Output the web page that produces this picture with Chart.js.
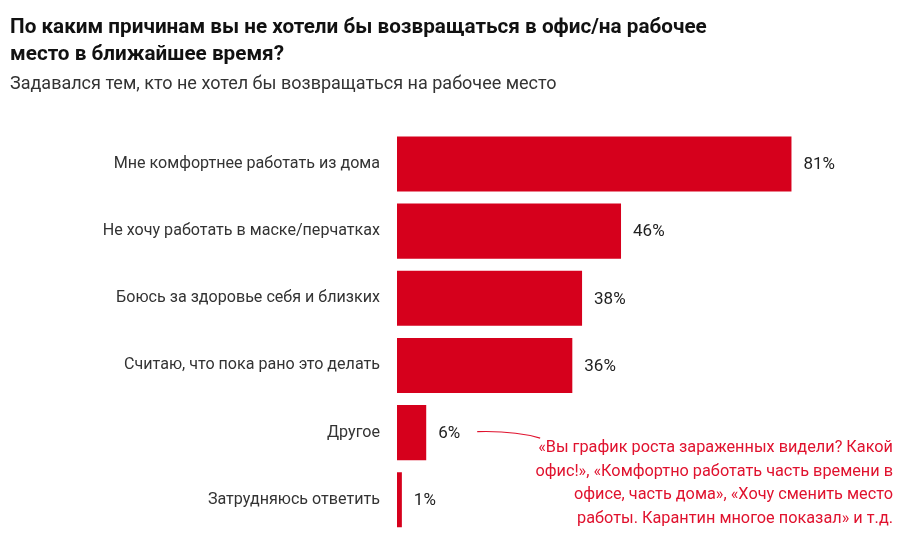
<!DOCTYPE html>
<html>
<head>
<meta charset="utf-8">
<script src="https://cdn.jsdelivr.net/npm/chart.js@4"></script>
<style>
  body { margin: 0; background: #fff; }
</style>
</head>
<body>
<canvas id="chart" width="903" height="552"></canvas>
<script>
// Данные
const titleLines = [
    'По каким причинам вы не хотели бы возвращаться в офис/на рабочее',
    'место в ближайшее время?'
];
const subtitleText = 'Задавался тем, кто не хотел бы возвращаться на рабочее место';
const categories = [
    'Мне комфортнее работать из дома',
    'Не хочу работать в маске/перчатках',
    'Боюсь за здоровье себя и близких',
    'Считаю, что пока рано это делать',
    'Другое',
    'Затрудняюсь ответить'
];
const values = [81, 46, 38, 36, 6, 1];
const valueLabels = ['81%', '46%', '38%', '36%', '6%', '1%'];
const noteLines = [
    '«Вы график роста зараженных видели? Какой',
    'офис!», «Комфортно работать часть времени в',
    'офисе, часть дома», «Хочу сменить место',
    'работы. Карантин многое показал» и т.д.'
];
const noteIndex = 4;

const barColor = '#d6001c';
const noteColor = '#e0122e';
const fontFamily = 'Roboto, "Noto Sans", sans-serif';

// Подписи значений справа от столбцов
const valueLabelsPlugin = {
    id: 'valueLabels',
    afterDatasetsDraw(chart) {
        const ctx = chart.ctx;
        const bars = chart.getDatasetMeta(0).data;
        ctx.save();
        ctx.font = '17px ' + fontFamily;
        ctx.fillStyle = '#222';
        ctx.textAlign = 'left';
        ctx.textBaseline = 'middle';
        bars.forEach((bar, i) => {
            ctx.fillText(valueLabels[i], bar.x + 12, bar.y + 1);
        });
        ctx.restore();
    }
};

// Комментарий к «Другое»
const notePlugin = {
    id: 'note',
    afterDraw(chart) {
        const ctx = chart.ctx;
        const bar = chart.getDatasetMeta(0).data[noteIndex];
        const right = chart.width - 10;
        const lineH = 23.5;
        const firstY = bar.y + 15.5;
        ctx.save();
        ctx.font = '16.3px ' + fontFamily;
        ctx.fillStyle = noteColor;
        ctx.textAlign = 'right';
        ctx.textBaseline = 'middle';
        noteLines.forEach((line, i) => {
            ctx.fillText(line, right, firstY + i * lineH);
        });
        const textLeft = right - ctx.measureText(noteLines[0]).width;

        // соединительная линия
        const x0 = bar.x + 51;
        const y0 = bar.y - 1;
        const x1 = textLeft + 2;
        const y1 = firstY - 10;
        ctx.strokeStyle = noteColor;
        ctx.lineWidth = 1.2;
        ctx.beginPath();
        ctx.moveTo(x0, y0);
        ctx.quadraticCurveTo(x0 + (x1 - x0) * 0.6, y0 - 1, x1, y1);
        ctx.stroke();
        ctx.restore();
    }
};

new Chart(document.getElementById('chart'), {
    type: 'bar',
    data: {
        labels: categories,
        datasets: [{
            data: values,
            backgroundColor: barColor,
            borderWidth: 0,
            categoryPercentage: 0.82,
            barPercentage: 1
        }]
    },
    options: {
        indexAxis: 'y',
        responsive: false,
        animation: false,
        devicePixelRatio: 1,
        layout: {
            padding: { left: 10, right: 19, top: 0, bottom: 4 }
        },
        scales: {
            x: {
                display: false,
                min: 0,
                max: 100
            },
            y: {
                grid: { display: false },
                border: { display: false },
                ticks: {
                    color: '#333',
                    padding: 9,
                    font: { family: fontFamily, size: 16.1 }
                },
                afterFit(scale) {
                    scale.width = 387;
                }
            }
        },
        plugins: {
            legend: { display: false },
            tooltip: { enabled: false },
            title: {
                display: true,
                text: titleLines,
                align: 'start',
                color: '#111',
                font: { family: fontFamily, size: 20.7, weight: 'bold', lineHeight: 1.3 },
                padding: { top: 14, bottom: 4 }
            },
            subtitle: {
                display: true,
                text: subtitleText,
                align: 'start',
                color: '#333',
                font: { family: fontFamily, size: 18, lineHeight: 1.2 },
                padding: { top: 2, bottom: 35 }
            }
        }
    },
    plugins: [valueLabelsPlugin, notePlugin]
});
</script>
</body>
</html>
